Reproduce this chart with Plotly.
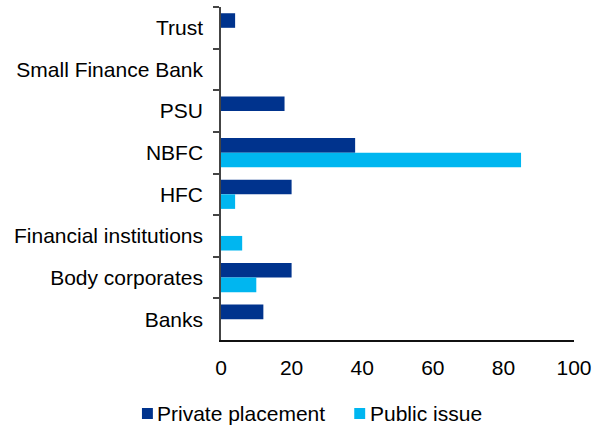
import plotly.graph_objects as go

# Issuer categories, listed top to bottom
categories = [
    "Trust",
    "Small Finance Bank",
    "PSU",
    "NBFC",
    "HFC",
    "Financial institutions",
    "Body corporates",
    "Banks",
]

# Values by issue route
series_names = ["Private placement", "Public issue"]
private_placement = [4, 0, 18, 38, 20, 0, 20, 12]
public_issue = [0, 0, 0, 85, 4, 6, 10, 0]

x_ticks = [0, 20, 40, 60, 80, 100]

NAVY = "#00338D"
SKY = "#00B6F0"
FONT = "Liberation Sans, Arial, sans-serif"

W, H = 599, 425
ML, MR, MT, MB = 221, 23, 7, 85
PW, PH = W - ML - MR, H - MT - MB


def px_x(px):
    """Figure pixel column -> paper x."""
    return (px - ML) / PW


def px_y(py):
    """Figure pixel row (from top) -> paper y."""
    return (H - MB - py) / PH


fig = go.Figure()
fig.add_trace(go.Bar(
    y=categories, x=private_placement, orientation="h",
    name=series_names[0], marker=dict(color=NAVY, line=dict(width=0)),
))
fig.add_trace(go.Bar(
    y=categories, x=public_issue, orientation="h",
    name=series_names[1], marker=dict(color=SKY, line=dict(width=0)),
))

# Legend row under the axis: coloured square followed by the series name
legend_items = [(series_names[0], NAVY, 141.5), (series_names[1], SKY, 355.0)]
shapes, annotations = [], []
for name, color, left in legend_items:
    shapes.append(dict(
        type="rect", xref="paper", yref="paper",
        x0=px_x(left), x1=px_x(left + 11),
        y0=px_y(419), y1=px_y(408),
        fillcolor=color, line=dict(width=0),
    ))
    annotations.append(dict(
        text=name, xref="paper", yref="paper",
        x=px_x(left + 13.5), y=px_y(413),
        xanchor="left", yanchor="middle", showarrow=False,
        font=dict(family=FONT, size=21, color="#000000"),
    ))

fig.update_layout(
    width=W, height=H,
    margin=dict(l=ML, r=MR, t=MT, b=MB),
    paper_bgcolor="white", plot_bgcolor="white",
    font=dict(family=FONT, size=21, color="#000000"),
    barmode="group", bargap=0.30, bargroupgap=0.0,
    showlegend=False,
    shapes=shapes,
    annotations=annotations,
)

fig.update_xaxes(
    range=[0, 100], tickvals=x_ticks,
    showgrid=False, zeroline=False,
    showline=True, linecolor="#111111", linewidth=1.5,
    ticks="", ticklabelstandoff=8,
    tickfont=dict(size=21),
)
fig.update_yaxes(
    categoryorder="array", categoryarray=categories,
    autorange="reversed",
    showgrid=False, zeroline=False,
    showline=True, linecolor="#444444", linewidth=1.5,
    ticks="outside", tickson="boundaries", ticklen=6,
    tickcolor="#444444", tickwidth=1.5,
    ticklabelstandoff=12,
    tickfont=dict(size=21),
)

fig.write_html("out.html")
